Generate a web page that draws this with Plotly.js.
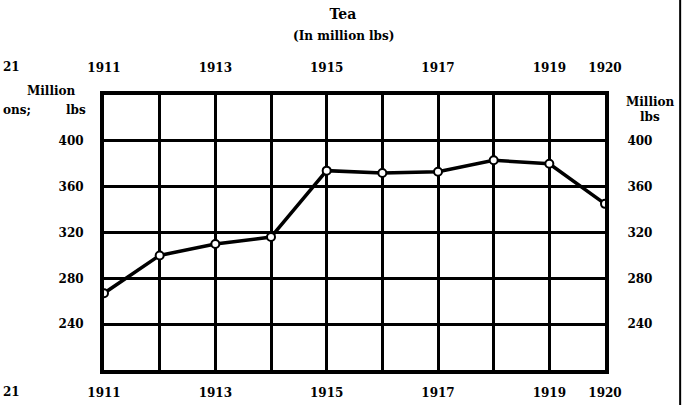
<!DOCTYPE html>
<html>
<head>
<meta charset="utf-8">
<script src="https://cdn.plot.ly/plotly-3.0.1.min.js"></script>
<style>html,body{margin:0;padding:0;background:#fff;}#chart{width:690px;height:405px;}</style>
</head>
<body>
<div id="chart"></div>
<script>
const years = [1911, 1912, 1913, 1914, 1915, 1916, 1917, 1918, 1919, 1920];
const teaMillionLbs = [267, 300, 310, 316, 374, 372, 373, 383, 380, 345];
const yearTickText = ['1911', '', '1913', '', '1915', '', '1917', '', '1919', '1920'];
const valueTicks = [200, 240, 280, 320, 360, 400, 440];
const valueTickText = ['', '240', '280', '320', '360', '400', ''];

const F = 'DejaVu Serif, Liberation Serif, serif';
const tickFont = {family: F, size: 12, color: '#000', weight: 'bold'};
const txt = (s) => ({family: F, size: s, color: '#000', weight: 'bold'});

const traces = [
  {
    x: years, y: teaMillionLbs, type: 'scatter', mode: 'lines+markers',
    line: {color: '#000', width: 3.5},
    marker: {symbol: 'circle', size: 8, color: '#fff', line: {color: '#000', width: 2}},
    xaxis: 'x', yaxis: 'y', hoverinfo: 'skip'
  },
  {
    x: years, y: teaMillionLbs, type: 'scatter', mode: 'lines',
    line: {color: 'rgba(0,0,0,0)', width: 0},
    xaxis: 'x2', yaxis: 'y2', hoverinfo: 'skip', showlegend: false
  }
];

const common = {
  showgrid: true, gridcolor: '#000', gridwidth: 3,
  zeroline: false, showline: true, linecolor: '#000', linewidth: 4,
  ticks: 'outside', tickcolor: 'rgba(0,0,0,0)', tickfont: tickFont
};

const layout = {
  width: 690, height: 405,
  margin: {l: 104, r: 85, t: 95, b: 35},
  paper_bgcolor: '#fff', plot_bgcolor: '#fff',
  showlegend: false,
  title: {
    text: '<b>Tea</b>',
    font: {family: F, size: 14, color: '#000'},
    x: 0.497, xanchor: 'center', y: 0.965, yanchor: 'middle'
  },
  xaxis: Object.assign({}, common, {
    range: [1911, 1920], tickmode: 'array', tickvals: years, ticktext: yearTickText,
    ticklen: 9, mirror: true
  }),
  xaxis2: Object.assign({}, common, {
    range: [1911, 1920], tickmode: 'array', tickvals: years, ticktext: yearTickText,
    overlaying: 'x', side: 'top', ticklen: 14, showgrid: false
  }),
  yaxis: Object.assign({}, common, {
    range: [200, 440], tickmode: 'array', tickvals: valueTicks, ticktext: valueTickText,
    ticklen: 14, mirror: true
  }),
  yaxis2: Object.assign({}, common, {
    range: [200, 440], tickmode: 'array', tickvals: valueTicks, ticktext: valueTickText,
    overlaying: 'y', side: 'right', ticklen: 16, showgrid: false
  }),
  annotations: [
    {text: '(In million lbs)', xref: 'paper', yref: 'paper', x: 0.478, y: 1.213,
     showarrow: false, font: txt(12), xanchor: 'center', yanchor: 'middle'},
    {text: 'Million', xref: 'paper', yref: 'paper', x: -0.104, y: 1.015,
     showarrow: false, font: txt(12), xanchor: 'center', yanchor: 'middle'},
    {text: 'lbs', xref: 'paper', yref: 'paper', x: -0.056, y: 0.945,
     showarrow: false, font: txt(12), xanchor: 'center', yanchor: 'middle'},
    {text: 'ons;', xref: 'paper', yref: 'paper', x: -0.205, y: 0.945,
     showarrow: false, font: txt(12), xanchor: 'left', yanchor: 'middle'},
    {text: '21', xref: 'paper', yref: 'paper', x: -0.205, y: 1.1,
     showarrow: false, font: txt(12), xanchor: 'left', yanchor: 'middle'},
    {text: '21', xref: 'paper', yref: 'paper', x: -0.205, y: -0.08,
     showarrow: false, font: txt(12), xanchor: 'left', yanchor: 'middle'},
    {text: 'Million', xref: 'paper', yref: 'paper', x: 1.09, y: 0.975,
     showarrow: false, font: txt(12), xanchor: 'center', yanchor: 'middle'},
    {text: 'lbs', xref: 'paper', yref: 'paper', x: 1.09, y: 0.92,
     showarrow: false, font: txt(12), xanchor: 'center', yanchor: 'middle'}
  ],
  shapes: [
    {type: 'line', xref: 'paper', yref: 'paper', x0: 1.15, x1: 1.15, y0: -0.13, y1: 1.35,
     line: {color: '#000', width: 2}}
  ]
};

Plotly.newPlot('chart', traces, layout, {displayModeBar: false, staticPlot: true});
</script>
</body>
</html>
